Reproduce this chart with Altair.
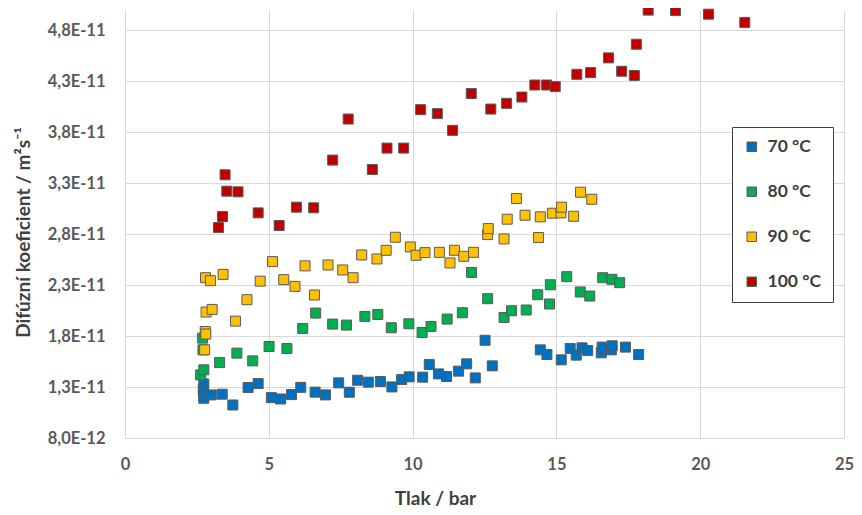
import altair as alt
import pandas as pd

# series labels and colours
series_names = ["70 °C", "80 °C", "90 °C", "100 °C"]
series_colors = ["#0070C0", "#00B050", "#FFC000", "#C00000"]

# pressure (bar) and diffusion coefficient (in units of 1E-11 m2/s)
p70 = [2.74, 2.72, 2.74, 2.74, 3.00, 3.38, 3.75, 4.28, 4.63, 5.09, 5.41, 5.79, 6.11, 6.61,
       6.97, 7.43, 7.80, 8.09, 8.46, 8.88, 9.28, 9.62, 9.88, 10.35, 10.58, 10.90, 11.18,
       11.60, 11.88, 12.18, 12.52, 12.77, 14.44, 14.67, 15.17, 15.48, 15.69, 15.89, 16.09,
       16.56, 16.59, 16.91, 16.94, 17.40, 17.86]
d70 = [1.331, 1.272, 1.213, 1.190, 1.223, 1.230, 1.124, 1.295, 1.334, 1.196, 1.183, 1.226,
       1.297, 1.250, 1.223, 1.341, 1.249, 1.367, 1.348, 1.354, 1.301, 1.373, 1.400, 1.397,
       1.521, 1.429, 1.403, 1.456, 1.528, 1.390, 1.759, 1.508, 1.665, 1.619, 1.567, 1.678,
       1.613, 1.685, 1.658, 1.636, 1.692, 1.665, 1.705, 1.692, 1.619]

p80 = [2.63, 2.74, 2.70, 2.71, 3.29, 3.89, 4.44, 5.01, 5.63, 6.18, 6.63, 7.22, 7.70, 8.34,
       8.79, 9.26, 9.87, 10.33, 10.64, 11.20, 11.73, 12.05, 12.61, 13.18, 13.44, 13.95,
       14.35, 14.79, 14.76, 15.36, 15.83, 16.16, 16.61, 16.93, 17.20]
d80 = [1.419, 1.469, 1.780, 1.665, 1.540, 1.633, 1.557, 1.698, 1.678, 1.875, 2.026, 1.918,
       1.908, 1.993, 2.012, 1.882, 1.921, 1.835, 1.894, 1.967, 2.029, 2.425, 2.167, 1.983,
       2.049, 2.056, 2.206, 2.304, 2.115, 2.383, 2.233, 2.193, 2.373, 2.357, 2.324]

p90 = [2.77, 2.79, 2.81, 2.82, 3.03, 2.80, 2.97, 3.41, 3.84, 4.24, 4.70, 5.13, 5.52, 5.91,
       6.26, 6.59, 7.06, 7.57, 7.93, 8.23, 8.76, 9.08, 9.40, 9.92, 10.12, 10.43, 10.93,
       11.30, 11.46, 11.78, 12.12, 12.61, 12.63, 13.18, 13.29, 13.61, 13.91, 14.38, 14.44,
       14.86, 15.16, 15.18, 15.60, 15.84, 16.23]
d90 = [1.665, 1.845, 1.820, 2.036, 2.062, 2.373, 2.344, 2.406, 1.947, 2.157, 2.339, 2.531,
       2.354, 2.288, 2.489, 2.203, 2.498, 2.449, 2.373, 2.596, 2.557, 2.642, 2.770, 2.675,
       2.593, 2.619, 2.622, 2.518, 2.642, 2.583, 2.622, 2.796, 2.855, 2.754, 2.947, 3.150,
       2.986, 2.767, 2.970, 3.006, 3.009, 3.065, 2.976, 3.212, 3.143]

p100 = [3.25, 3.39, 3.48, 3.54, 3.93, 4.63, 5.36, 5.96, 6.56, 7.22, 7.76, 8.60, 9.11, 9.69,
        10.28, 10.86, 11.39, 12.04, 12.72, 13.27, 13.80, 14.25, 14.66, 14.96, 15.71, 16.19,
        16.81, 17.27, 17.71, 17.78, 18.19, 19.14, 20.29, 21.55]
d100 = [2.865, 2.973, 3.383, 3.222, 3.216, 3.009, 2.885, 3.065, 3.059, 3.527, 3.930, 3.435,
        3.645, 3.645, 4.022, 3.983, 3.819, 4.180, 4.028, 4.084, 4.146, 4.264, 4.264, 4.248,
        4.369, 4.386, 4.530, 4.399, 4.357, 4.664, 4.999, 4.994, 4.959, 4.878]

unit = 1e-11
x_ticks = [0, 5, 10, 15, 20, 25]
y_ticks = [8.0e-12, 1.3e-11, 1.8e-11, 2.3e-11, 2.8e-11, 3.3e-11, 3.8e-11, 4.3e-11, 4.8e-11]

rows = []
for name, ps, ds in zip(series_names, [p70, p80, p90, p100], [d70, d80, d90, d100]):
    for p, d in zip(ps, ds):
        rows.append({"series": name, "p": p, "D": d * unit})
df = pd.DataFrame(rows)

font = "Lato"

chart = alt.Chart(df).mark_square(
    size=100, stroke="#5a5a5a", strokeWidth=1, opacity=1, filled=True
).encode(
    x=alt.X("p:Q",
            scale=alt.Scale(domain=[0, 25], nice=False, zero=False),
            axis=alt.Axis(values=x_ticks, title="Tlak / bar", format="d",
                          labelFlush=False,
                          titleX=310, titleY=60, titleBaseline="middle",
                          titleAnchor="start", titleAlign="center",
                          labelPadding=18)),
    y=alt.Y("D:Q",
            scale=alt.Scale(domain=[8.0e-12, 5.0e-11], nice=False, zero=False),
            axis=alt.Axis(values=y_ticks,
                          title="Difúzní koeficient / m²s⁻¹",
                          labelExpr="replace(upper(format(datum.value, '.1e')), '.', ',')",
                          labelFlush=False,
                          labelPadding=20,
                          titleX=-102, titleY=222, titleAngle=-90,
                          titleAnchor="start", titleAlign="center",
                          titleBaseline="middle")),
    fill=alt.Fill("series:N",
                  scale=alt.Scale(domain=series_names, range=series_colors),
                  sort=series_names,
                  legend=alt.Legend(title=None, orient="none", legendX=607, legendY=117,
                                    symbolType="square", symbolSize=90,
                                    symbolStrokeColor="#5a5a5a", symbolStrokeWidth=1,
                                    labelFont=font, labelFontSize=17.5, labelFontWeight="bold",
                                    labelColor="#404040", labelOffset=7,
                                    rowPadding=26, padding=11,
                                    strokeColor="#404040", fillColor="white")),
).properties(
    width=719, height=428,
    autosize=alt.AutoSizeParams(type="none"),
    padding={"left": 117, "top": 2, "right": 10, "bottom": 72},
).configure_axis(
    grid=True, gridColor="#d9d9d9", gridWidth=1,
    domainColor="#d9d9d9", ticks=False,
    labelFont=font, labelFontSize=16.5, labelFontWeight="bold", labelColor="#595959",
    titleFont=font, titleFontSize=19, titleFontWeight="bold", titleColor="#404040",
).configure_view(strokeWidth=0)

chart.save("out.html", embed_options={"renderer": "svg", "actions": False})
